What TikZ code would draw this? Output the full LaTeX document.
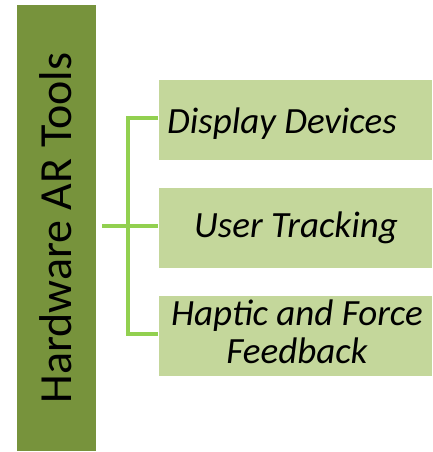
\documentclass[tikz,border=0pt]{standalone}
\usepackage{fontspec}
\setmainfont{Carlito}
\definecolor{darkolive}{HTML}{77933C}
\definecolor{lightolive}{HTML}{C4D79B}
\definecolor{linkgreen}{HTML}{92D050}
\tikzset{
  mainbox/.style={fill=darkolive, draw=white, line width=1pt, inner sep=0pt},
  subbox/.style={fill=lightolive, draw=white, line width=1pt, minimum width=274pt, minimum height=81pt, inner sep=0pt, anchor=north west},
  subtext/.style={font=\fontsize{37}{38}\selectfont\itshape, align=center, anchor=base, inner sep=0pt},
  link/.style={draw=linkgreen, line width=4.5pt}
}
\begin{document}
\begin{tikzpicture}[x=1pt,y=-1pt]
\useasboundingbox (0,0) rectangle (432,452);
\node[mainbox, minimum width=80pt, minimum height=447pt, anchor=north west] (main) at (16,4) {};
\node[rotate=90, font=\fontsize{46}{50}\selectfont] (maintext) at (56,228) {Hardware AR Tools};
\node[subbox] (b1) at (158,79) {};
\node[subbox] (b2) at (158,187) {};
\node[subbox] (b3) at (158,295) {};
\node[subtext] (t1) at (282,133) {Display Devices};
\node[subtext] (t2) at (296,237) {User Tracking};
\node[subtext] (t3) at (297,363) {Haptic and Force\\Feedback};
\coordinate (j) at (128,226);
\draw[link] (102,226) -- (j);
\draw[link] (b1.west |- 0,118) -| (j |- 0,118) -- (j |- 0,334) -- (b3.west |- 0,334);
\draw[link] (j) -- (b2.west |- j);
\end{tikzpicture}
\end{document}
